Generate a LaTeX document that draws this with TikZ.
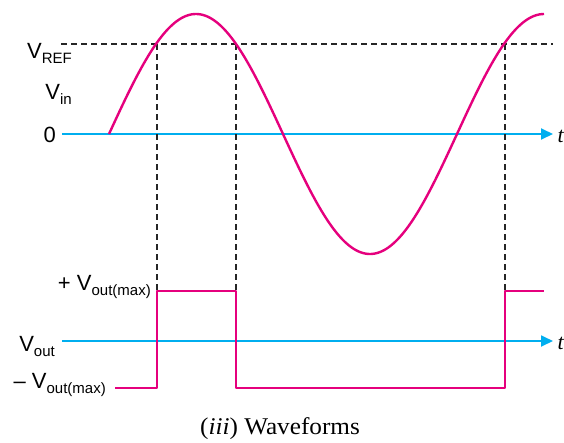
\documentclass[tikz,border=0pt]{standalone}
\usepackage{fontspec}
\setmainfont{Liberation Sans}
\newfontfamily\capfont{Liberation Serif}
\usetikzlibrary{arrows.meta}
\definecolor{wavecol}{HTML}{E5007D}
\definecolor{axiscol}{HTML}{00AEEF}
\newcommand{\sbs}[1]{\raisebox{-5.5pt}{\fontsize{15}{15}\selectfont #1}}
\pgfmathsetmacro{\amp}{120}
\pgfmathsetmacro{\off}{asin(90/\amp)*0.9666667}
\pgfmathsetmacro{\xa}{109+\off+1}
\pgfmathsetmacro{\xb}{283-\off}
\pgfmathsetmacro{\xc}{457+\off+1}
\begin{document}
\begin{tikzpicture}[x=1pt,y=-1pt,
  lbl/.style={inner sep=0pt, anchor=base east, font=\fontsize{22}{22}\selectfont},
  tlbl/.style={inner sep=0pt, anchor=base west, font=\capfont\itshape\fontsize{22}{22}\selectfont},
  axisline/.style={draw=axiscol, line width=1.8pt, -{Triangle[length=12pt,width=11pt]}},
  waveline/.style={draw=wavecol, line width=2.4pt, line join=round},
  guide/.style={draw=black!85, line width=1.2pt, dash pattern=on 6pt off 4pt}]
\useasboundingbox (0,0) rectangle (564,442);
% coordinates
\coordinate (a1s) at (62,134);
\coordinate (a1e) at (553,134);
\coordinate (a2s) at (62,341);
\coordinate (a2e) at (553,341);
\coordinate (rl) at (61,44);
\coordinate (rr) at (553,44);
\coordinate (c1) at (\xa,44);
\coordinate (c2) at (\xb,44);
\coordinate (c3) at (\xc,44);
\coordinate (hi) at (0,291);
\coordinate (lo) at (0,388);
\coordinate (sqs) at (115,388);
\coordinate (sqe) at (544,291);
% axes
\draw[axisline] (a1s) -- (a1e);
\draw[axisline] (a2s) -- (a2e);
% reference line and guides
\draw[guide] (rl) -- (rr);
\draw[guide] (c1) -- (c1 |- hi);
\draw[guide] (c2) -- (c2 |- hi);
\draw[guide] (c3) -- (c3 |- hi);
% input wave
\draw[waveline] plot[domain=109:544, samples=200, smooth] (\x, {134-\amp*sin((\x-109)*1.0344828)});
% output square wave
\draw[waveline] (sqs) -- (c1 |- lo) -- (c1 |- hi) -- (c2 |- hi) -- (c2 |- lo) -- (c3 |- lo) -- (c3 |- hi) -- (sqe);
% labels
\node[lbl] (lref) at (72,58) {V\sbs{REF}};
\node[lbl] (lin) at (72,99) {V\sbs{in}};
\node[lbl] (lzero) at (56,142) {0};
\node[lbl] (lpmax) at (151,290) {+ V\sbs{out(max)}};
\node[lbl] (lout) at (55,351) {V\sbs{out}};
\node[lbl] (lnmax) at (106,388) {\textendash{} V\sbs{out(max)}};
\node[tlbl] (t1) at (557.5,142) {t};
\node[tlbl] (t2) at (557.5,349) {t};
\node[inner sep=0pt, anchor=base] (cap) at (280,434) {\capfont\fontsize{24}{24}\selectfont\scalebox{1.05}[1]{(\textit{iii}) Waveforms}};
\end{tikzpicture}
\end{document}
